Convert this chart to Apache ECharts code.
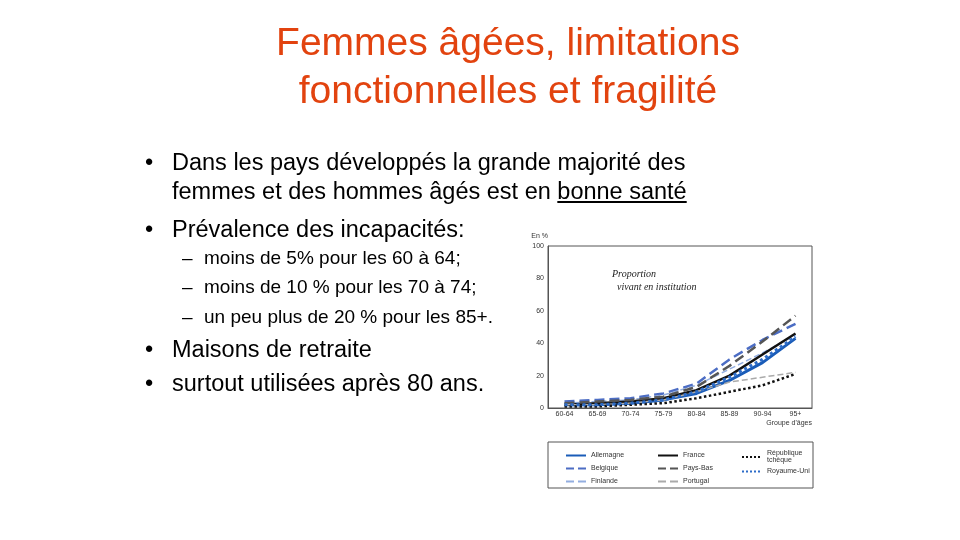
<!DOCTYPE html>
<html><head><meta charset="utf-8">
<script src="https://cdn.jsdelivr.net/npm/echarts@6/dist/echarts.min.js"></script>
<style>
body{margin:0;width:960px;height:540px;background:#fff;font-family:Arial,"Liberation Sans",sans-serif;position:relative;overflow:hidden}
#c{position:absolute;left:0;top:0;width:960px;height:540px}
.t{position:absolute;color:#E2430F;font-size:39px;text-align:center;left:208px;width:600px;top:18px;line-height:48px}
.b{position:absolute;font-size:23.5px;color:#000;left:172px;line-height:29px;white-space:nowrap}
.b:before{content:"•";position:absolute;left:-27px}
.s{position:absolute;font-size:19px;color:#000;left:204px;line-height:24px;white-space:nowrap}
.s:before{content:"–";position:absolute;left:-22px}
</style></head><body>
<div id="c"></div>
<div class="t">Femmes âgées, limitations<br>fonctionnelles et fragilité</div>
<div class="b" style="top:148px">Dans les pays développés la grande majorité des<br>femmes et des hommes âgés est en <u>bonne santé</u></div>
<div class="b" style="top:215px">Prévalence des incapacités:</div>
<div class="s" style="top:246px">moins de 5% pour les 60 à 64;</div>
<div class="s" style="top:275px">moins de 10 % pour les 70 à 74;</div>
<div class="s" style="top:305px">un peu plus de 20 % pour les 85+.</div>
<div class="b" style="top:335px">Maisons de retraite</div>
<div class="b" style="top:369px">surtout utilisées après 80 ans.</div>
<script>
const categories=['60-64','65-69','70-74','75-79','80-84','85-89','90-94','95+'];
const allemagne=[2,2,3,5,9,17,28,43];
const france=[2,3,4,6,11,20,33,46];
const tcheque=[1,1,2,3,6,10,14,21];
const belgique=[4,5,6,9,15,30,42,52];
const paysBas=[3,4,5,7,13,26,41,57];
const portugal=[2,2,3,5,10,16,19,22];
const finlande=[3,4,5,8,14,24,34,45];
const royaumeUni=[2,2,3,5,10,19,30,44];
const yTicks=[0,20,40,60,80,100];
const ch=echarts.init(document.getElementById('c'));
function s(name,data,color,type,width){return {name,type:'line',data,symbol:'none',lineStyle:{color,type,width},itemStyle:{color}};}
const lf={fontSize:7,color:'#333'};
const lg={orient:'vertical',itemWidth:20,itemHeight:6,textStyle:lf,itemStyle:{opacity:0}};
ch.setOption({
 animation:false,
 grid:{left:548,right:148,top:246,bottom:132},
 xAxis:{type:'category',data:categories,boundaryGap:true,
  axisLine:{lineStyle:{color:'#555'}},axisTick:{length:10,lineStyle:{color:'#555'}},
  axisLabel:{fontSize:7,color:'#333',margin:3},
  name:"Groupe d'âges",nameLocation:'end',nameGap:0,nameTextStyle:{fontSize:7,color:'#333',verticalAlign:'top',align:'right',padding:[12,0,0,0]}},
 yAxis:{type:'value',min:0,max:100,interval:20,
  axisLine:{show:true,lineStyle:{color:'#555'}},axisTick:{show:false},splitLine:{show:false},
  axisLabel:{fontSize:7,color:'#333',margin:4,formatter:v=>yTicks.includes(v)?v:''},
  name:'En %',nameGap:6,nameTextStyle:{fontSize:7,color:'#333',align:'right'}},
 legend:[
  Object.assign({left:560,top:447,itemGap:6,data:['Allemagne','Belgique','Finlande']},lg),
  Object.assign({left:652,top:447,itemGap:6,data:['France','Pays-Bas','Portugal']},lg),
  Object.assign({left:736,top:445,itemGap:4,data:['République\ntchèque','Royaume-Uni']},lg)
 ],
 graphic:[
  {type:'rect',shape:{x:548,y:442,width:265,height:46},style:{fill:'none',stroke:'#555',lineWidth:1}},
  {type:'rect',shape:{x:548,y:246,width:264,height:162},style:{fill:'none',stroke:'#555',lineWidth:1},silent:true},
  {type:'text',left:612,top:268,style:{text:'Proportion\n  vivant en institution',font:'italic 10px "Liberation Serif", serif',fill:'#222',lineHeight:13,align:'center'}}
 ],
 series:[
  s('Allemagne',allemagne,'#1a5cb8','solid',3),
  s('Belgique',belgique,'#4c6dc4','dashed',2.5),
  s('Finlande',finlande,'#93aee0','dashed',1.5),
  s('France',france,'#111','solid',2.5),
  s('Pays-Bas',paysBas,'#555','dashed',2.5),
  s('Portugal',portugal,'#aaa','dashed',1.5),
  s('République\ntchèque',tcheque,'#111','dotted',2.5),
  s('Royaume-Uni',royaumeUni,'#2d6cc8','dotted',3)
 ]
});
</script></body></html>
